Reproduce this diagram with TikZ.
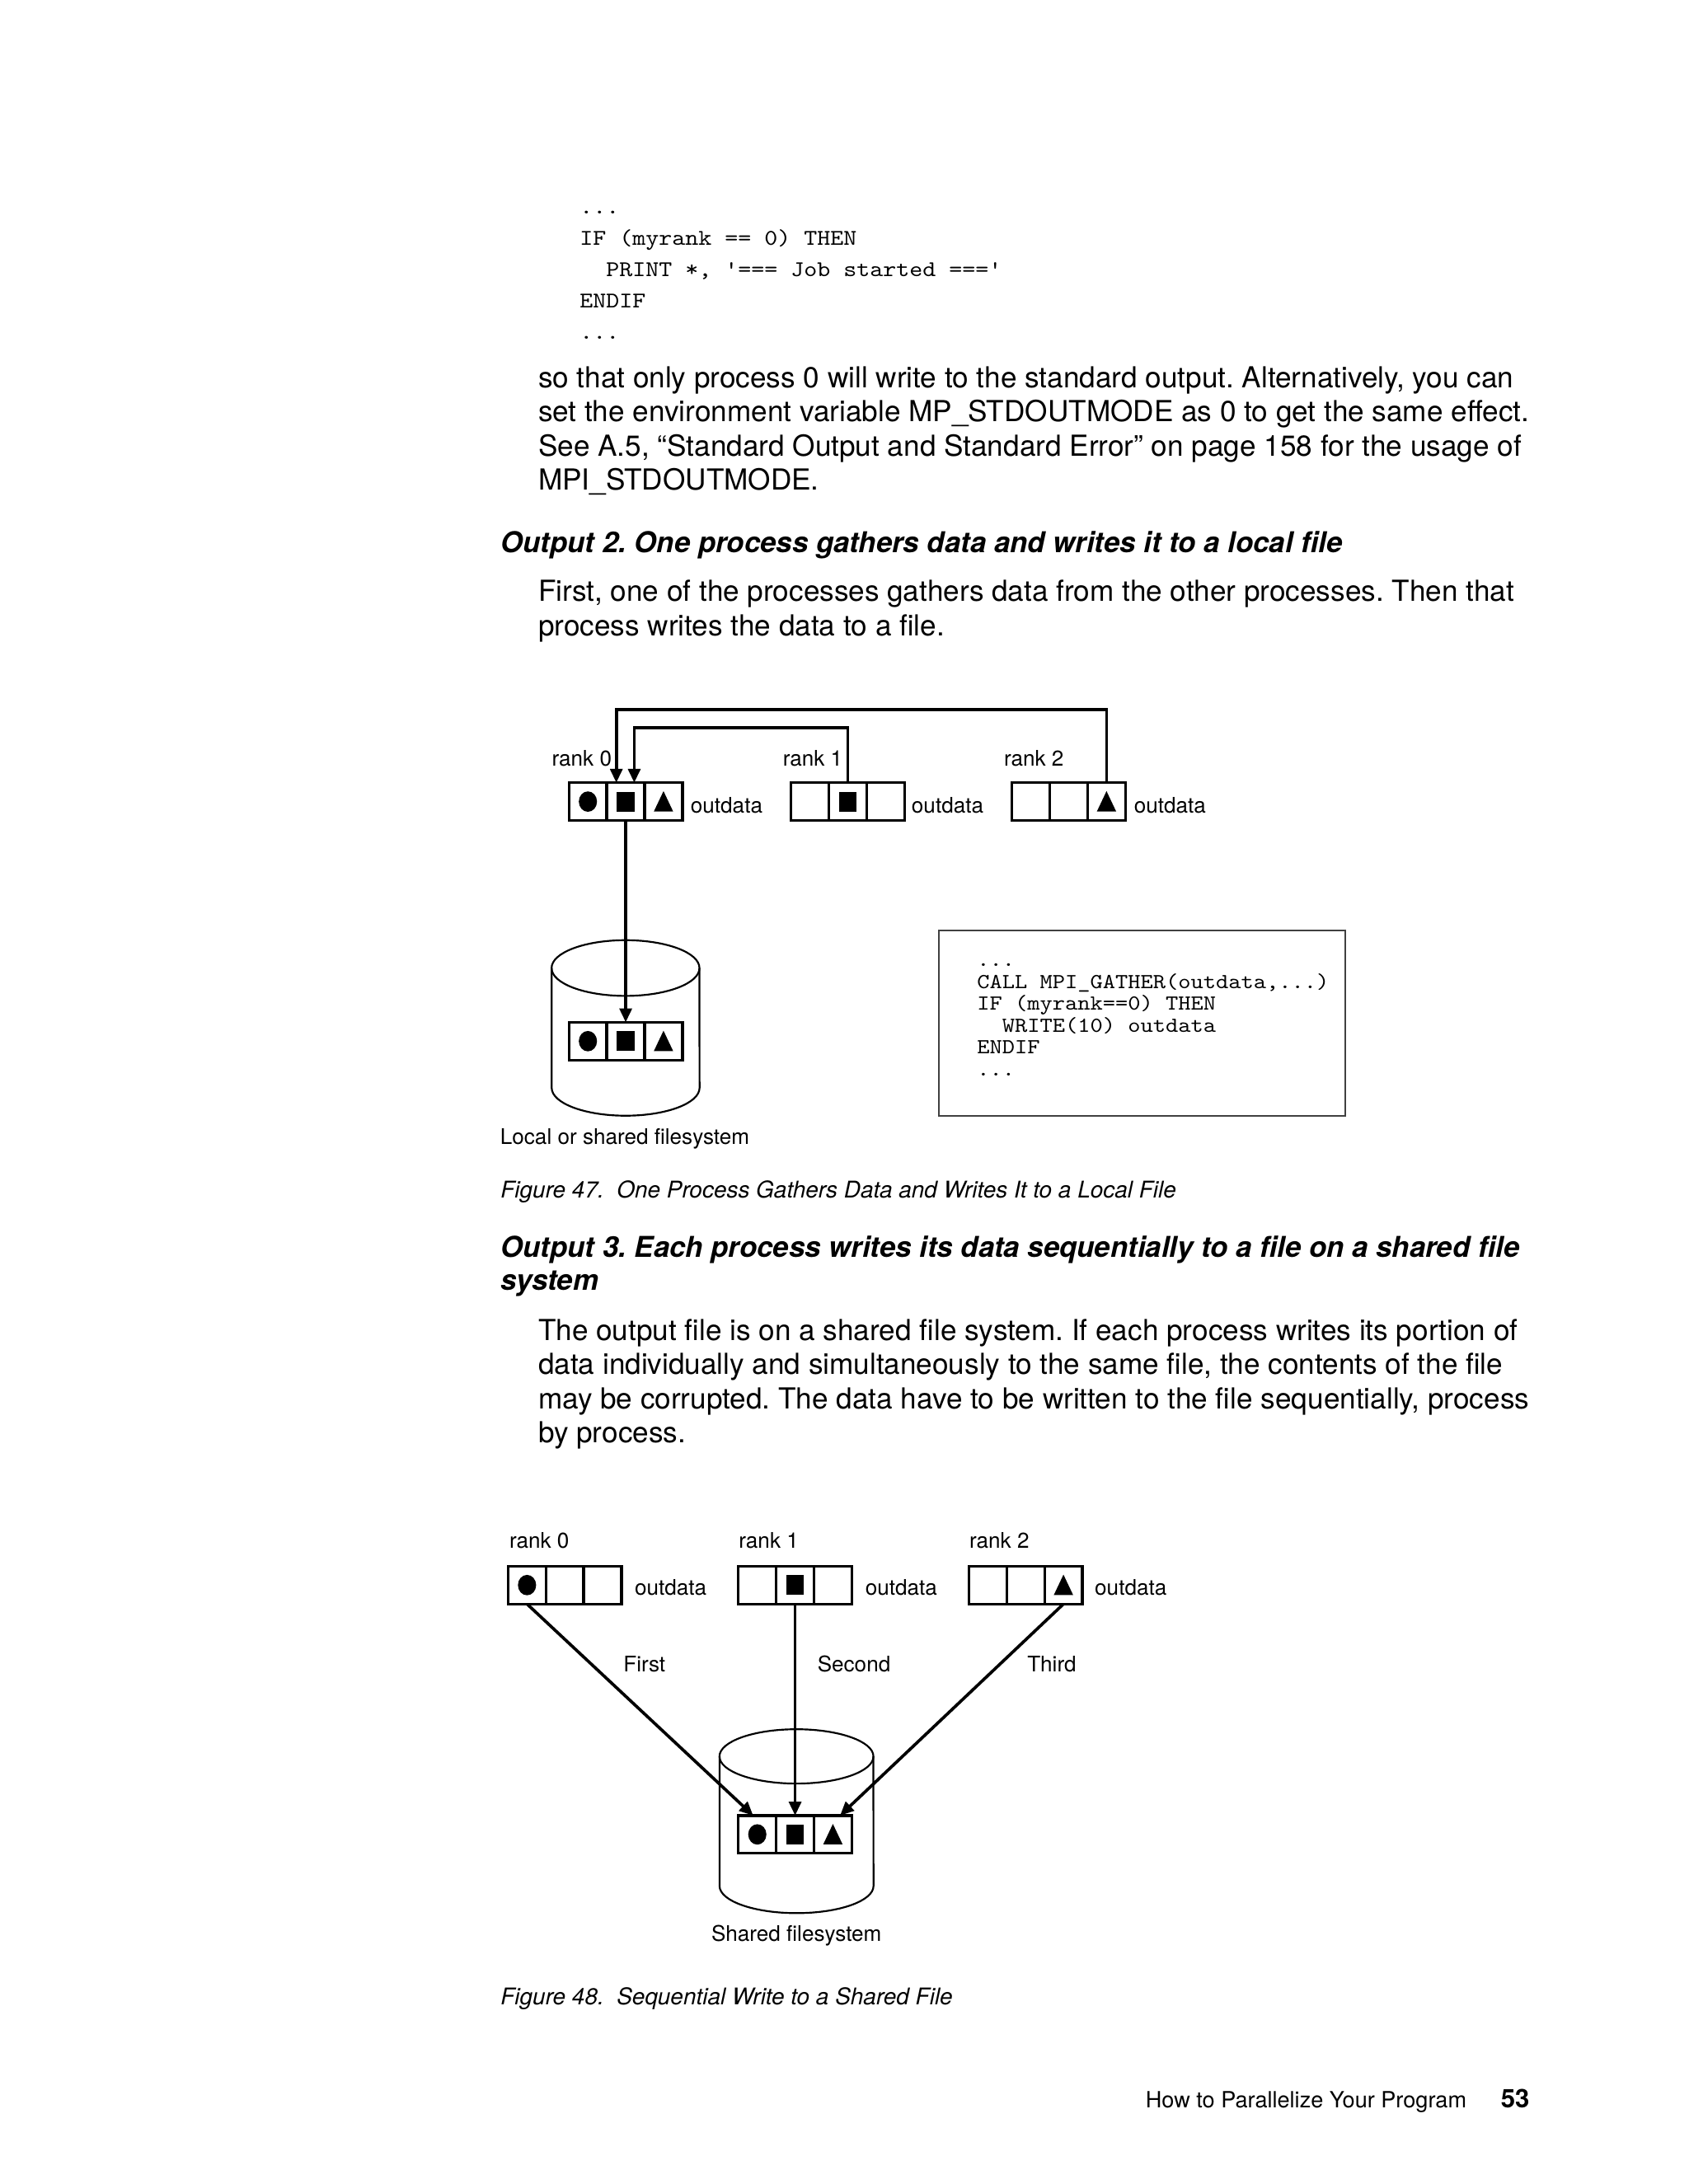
\documentclass[tikz,border=0pt]{standalone}
\usepackage{fontspec}
\setmainfont{TeX Gyre Heros}
\newfontfamily\codefont{lmmono10-regular.otf}[FakeStretch=1.12]
\usetikzlibrary{arrows.meta,positioning}
\frenchspacing

\tikzset{
  txt/.style={anchor=base west, inner sep=0pt, align=left},
  body/.style={txt, font=\fontsize{10.5}{12.4}\selectfont},
  head/.style={txt, font=\fontsize{10.4}{12.2}\selectfont\bfseries\itshape},
  capt/.style={txt, font=\fontsize{8.35}{10}\selectfont\itshape},
  lbl/.style={anchor=base west, inner sep=0pt, font=\fontsize{7.8}{9}\selectfont},
  cell/.style={draw, line width=1pt, minimum width=13.7pt,
    minimum height=13.7pt, inner sep=0pt, outer sep=0pt},
  dotcell/.style={cell, path picture={\fill (path picture bounding box.center)
    ellipse [x radius=3.3pt, y radius=3.7pt];}},
  sqcell/.style={cell, path picture={\fill (path picture bounding box.center)
    ++(-3.2pt,-3.6pt) rectangle ++(6.4pt,7.2pt);}},
  tricell/.style={cell, path picture={\fill (path picture bounding box.center)
    ++(0pt,3.8pt) -- ++(3.5pt,-7.4pt) -- ++(-7pt,0pt) -- cycle;}},
  arr/.style={line width=1.1pt, -{Triangle[length=5pt, width=4.4pt]}},
  cyl/.style={line width=0.65pt},
}

\begin{document}
\begin{tikzpicture}[x=0.50495pt, y=-0.50495pt]
  \path[fill=white] (0,0) rectangle (1212,1568);
  \useasboundingbox (0,0) rectangle (1212,1568);

  % text above the figures (multi-line nodes sit on their last baseline)
  \node[txt, font=\codefont\fontsize{8.13}{11.36}\selectfont] (code1) at (415.8,243.6)
    {...\\IF (myrank == 0) THEN\\\hphantom{XX}PRINT *, '=== Job started ==='\\ENDIF\\...};
  \node[body] (para1) at (386,352)
    {so that only process 0 will write to the standard output. Alternatively, you can\\
     set the environment variable MP\_STDOUTMODE as 0 to get the same effect.\\
     See A.5, “Standard Output and Standard Error” on page 158 for the usage of\\
     MPI\_STDOUTMODE.};
  \node[head] (head2) at (359,396.5)
    {Output 2. One process gathers data and writes it to a local file};
  \node[body] (para2) at (386,456.3)
    {First, one of the processes gathers data from the other processes. Then that\\
     process writes the data to a file.};

  % figure 47: gather
  \draw[cyl] (449,695) ellipse [x radius=26.8pt, y radius=10.1pt];
  \draw[cyl] (396,695) -- (396,781)
    arc [start angle=180, end angle=360, x radius=26.8pt, y radius=10.1pt] -- (502,695);

  \node[dotcell] (g0a) at (422,575.5) {};
  \node[sqcell, right=0pt of g0a] (g0b) {};
  \node[tricell, right=0pt of g0b] (g0c) {};
  \node[cell] (g1a) at (581.4,575.5) {};
  \node[sqcell, right=0pt of g1a] (g1b) {};
  \node[cell, right=0pt of g1b] (g1c) {};
  \node[cell] (g2a) at (740,575.5) {};
  \node[cell, right=0pt of g2a] (g2b) {};
  \node[tricell, right=0pt of g2b] (g2c) {};
  \node[dotcell] (gfa) at (422,747.5) {};
  \node[sqcell, right=0pt of gfa] (gfb) {};
  \node[tricell, right=0pt of gfb] (gfc) {};

  \node[lbl] (gr0) at (395.8,550) {rank 0};
  \node[lbl] (gr1) at (561.6,550) {rank 1};
  \node[lbl] (gr2) at (720.3,550) {rank 2};
  \node[lbl] (go0) at (495.4,584) {outdata};
  \node[lbl] (go1) at (654,584) {outdata};
  \node[lbl] (go2) at (813.7,584) {outdata};
  \node[lbl, anchor=base] (gdisk) at (448.5,821.5) {Local or shared filesystem};

  \draw[arr] (g2c.north) -- ++(0,-52.5) -| ([xshift=-3.4pt]g0b.north);
  \draw[arr] (g1b.north) -- ++(0,-39.5) -| ([xshift=3.1pt]g0b.north);
  \draw[arr] (g0b.south) -- (gfb.north);

  \draw[line width=0.6pt, black!75] (674,668.3) rectangle (965.5,801.3);
  \node[txt, font=\codefont\fontsize{7.75}{7.93}\selectfont] (code2) at (701,772.3)
    {...\\CALL MPI\_GATHER(outdata,...)\\IF (myrank==0) THEN\\
     \hphantom{XX}WRITE(10) outdata\\ENDIF\\...};

  \node[capt] (cap47) at (359,860)
    {Figure 47.\ \ One Process Gathers Data and Writes It to a Local File};

  % text between the figures
  \node[head] (head3) at (359,926.5)
    {Output 3. Each process writes its data sequentially to a file on a shared file\\
     system};
  \node[body] (para3) at (386,1035.8)
    {The output file is on a shared file system. If each process writes its portion of\\
     data individually and simultaneously to the same file, the contents of the file\\
     may be corrupted. The data have to be written to the file sequentially, process\\
     by process.};

  % figure 48: sequential write
  \draw[cyl] (571.7,1261) ellipse [x radius=27.9pt, y radius=9.85pt];
  \draw[cyl] (516.5,1261) -- (516.5,1354)
    arc [start angle=180, end angle=360, x radius=27.9pt, y radius=9.85pt] -- (626.9,1261);

  \node[dotcell] (w0a) at (378.3,1138) {};
  \node[cell, right=0pt of w0a] (w0b) {};
  \node[cell, right=0pt of w0b] (w0c) {};
  \node[cell] (w1a) at (543.6,1138) {};
  \node[sqcell, right=0pt of w1a] (w1b) {};
  \node[cell, right=0pt of w1b] (w1c) {};
  \node[cell] (w2a) at (709.1,1138) {};
  \node[cell, right=0pt of w2a] (w2b) {};
  \node[tricell, right=0pt of w2b] (w2c) {};
  \node[dotcell] (wfa) at (543.6,1317) {};
  \node[sqcell, right=0pt of wfa] (wfb) {};
  \node[tricell, right=0pt of wfb] (wfc) {};

  \node[lbl] (wr0) at (365.3,1111.5) {rank 0};
  \node[lbl] (wr1) at (530,1111.5) {rank 1};
  \node[lbl] (wr2) at (695.5,1111.5) {rank 2};
  \node[lbl] (wo0) at (455.3,1145.5) {outdata};
  \node[lbl] (wo1) at (620.8,1145.5) {outdata};
  \node[lbl] (wo2) at (785.5,1145.5) {outdata};
  \node[lbl, anchor=base] (first) at (462.6,1200.5) {First};
  \node[lbl, anchor=base] (second) at (613,1200.5) {Second};
  \node[lbl, anchor=base] (third) at (755,1200.5) {Third};
  \node[lbl, anchor=base] (wdisk) at (571.7,1394) {Shared filesystem};

  \draw[arr] (w0a.south) -- ([xshift=-1.5pt]wfa.north);
  \draw[arr] (w1b.south) -- (wfb.north);
  \draw[arr] (w2c.south) -- ([xshift=2.6pt]wfc.north);

  \node[capt] (cap48) at (359,1439)
    {Figure 48.\ \ Sequential Write to a Shared File};

  % running foot
  \node[txt, font=\fontsize{8.1}{10}\selectfont] (foot) at (822,1513)
    {How to Parallelize Your Program};
  \node[txt, font=\fontsize{9.3}{11}\selectfont\bfseries] (pageno) at (1077,1513) {53};
\end{tikzpicture}
\end{document}
